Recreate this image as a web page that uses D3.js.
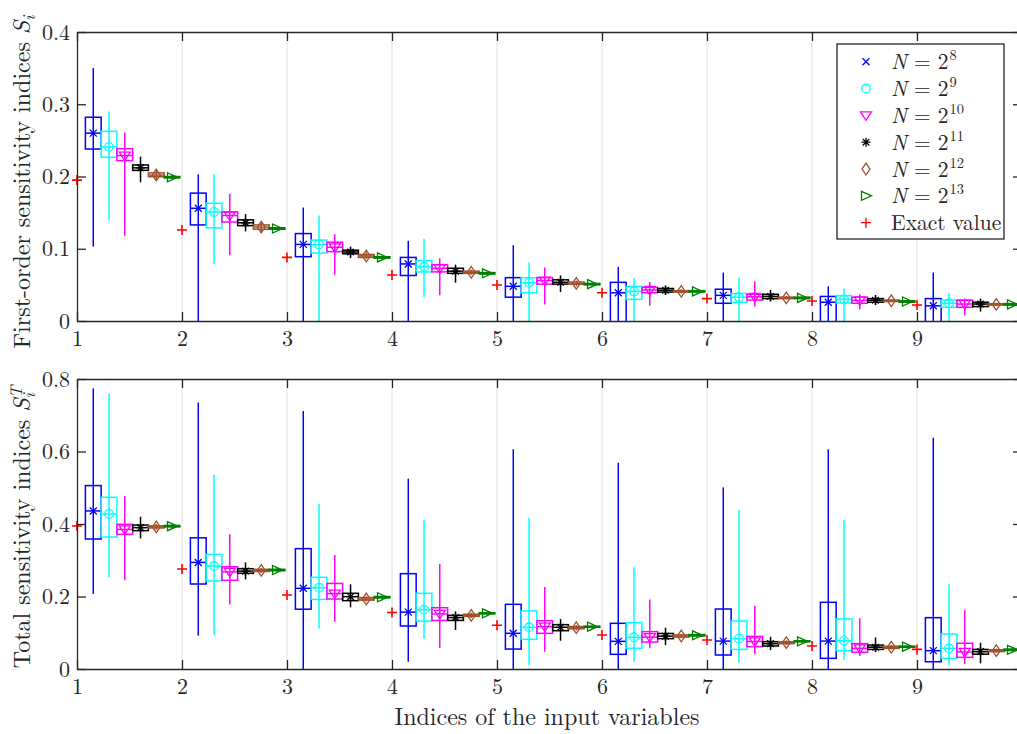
<!DOCTYPE html>
<html>
<head>
<meta charset="utf-8">
<script src="https://cdn.jsdelivr.net/npm/d3@7"></script>
<style>
  body { margin: 0; background: #fff; }
  text { font-family: "Latin Modern Roman", "CMU Serif", "Liberation Serif", "Times New Roman", serif; fill: #262626; }
</style>
</head>
<body>
<script>
// index of input variable
var variables = [1, 2, 3, 4, 5, 6, 7, 8, 9];
var sampleLabels = ["8", "9", "10", "11", "12", "13"];

// first-order indices, per variable: [whisker low, q1, median, q3, whisker high]
var first_N8 = [[0.103,0.238,0.26,0.282,0.35],[-0.02,0.133,0.156,0.177,0.203],[-0.02,0.089,0.106,0.121,0.157],
  [-0.02,0.063,0.079,0.088,0.111],[-0.02,0.033,0.048,0.060,0.105],[-0.02,-0.002,0.039,0.0535,0.075],
  [-0.02,0.0245,0.0355,0.044,0.067],[-0.02,-0.002,0.026,0.034,0.048],[-0.02,-0.002,0.021,0.031,0.067]];
var first_N9 = [[0.139,0.2265,0.241,0.2625,0.29],[0.079,0.129,0.151,0.163,0.203],[-0.02,0.094,0.106,0.112,0.146],
  [0.033,0.068,0.075,0.0835,0.114],[-0.02,0.039,0.053,0.060,0.081],[-0.02,0.030,0.041,0.048,0.059],
  [-0.02,0.026,0.033,0.038,0.060],[-0.02,0.025,0.030,0.035,0.045],[-0.02,0.019,0.0245,0.029,0.038]];
var first_N10 = [[0.118,0.222,0.229,0.2385,0.261],[0.091,0.137,0.146,0.151,0.176],[0.064,0.096,0.102,0.109,0.120],
  [0.0355,0.068,0.073,0.078,0.087],[0.023,0.051,0.056,0.060,0.074],[0.021,0.039,0.043,0.0466,0.054],
  [0.020,0.029,0.0335,0.037,0.055],[0.016,0.0245,0.0285,0.033,0.037],[0.008,0.019,0.0235,0.029,0.031]];
var first_N11 = [[0.192,0.2085,0.212,0.216,0.2275],[0.124,0.132,0.136,0.140,0.148],[0.087,0.093,0.0955,0.098,0.103],
  [0.053,0.066,0.069,0.073,0.078],[0.040,0.051,0.0535,0.057,0.063],[0.036,0.040,0.0425,0.045,0.049],
  [0.027,0.031,0.034,0.037,0.043],[0.022,0.026,0.0287,0.031,0.036],[0.013,0.020,0.0235,0.026,0.031]];
var first_N12 = [[0.194,0.1997,0.202,0.205,0.21],[0.122,0.127,0.130,0.133,0.137],[0.086,0.088,0.090,0.092,0.095],
  [0.064,0.066,0.0674,0.069,0.071],[0.048,0.051,0.052,0.054,0.056],[0.038,0.040,0.041,0.042,0.044],
  [0.030,0.031,0.032,0.033,0.035],[0.026,0.027,0.028,0.029,0.030],[0.021,0.022,0.023,0.024,0.025]];
var first_N13 = [[0.196,0.198,0.199,0.200,0.202],[0.126,0.127,0.128,0.129,0.130],[0.086,0.087,0.088,0.089,0.090],
  [0.064,0.065,0.066,0.067,0.068],[0.049,0.050,0.051,0.052,0.053],[0.039,0.040,0.041,0.042,0.043],
  [0.030,0.031,0.032,0.033,0.034],[0.025,0.026,0.027,0.028,0.029],[0.021,0.022,0.023,0.024,0.025]];
var first_exact = [0.195, 0.126, 0.088, 0.0637, 0.0498, 0.039, 0.031, 0.0277, 0.0221];

// total indices
var total_N8 = [[0.207,0.3586,0.436,0.506,0.774],[0.092,0.2345,0.294,0.362,0.735],[-0.03,0.165,0.2226,0.332,0.712],
  [0.02,0.1186,0.157,0.263,0.525],[-0.03,0.055,0.0984,0.1784,0.606],[-0.03,0.0405,0.0763,0.126,0.569],
  [-0.03,0.0386,0.077,0.1655,0.501],[-0.03,0.0294,0.077,0.184,0.606],[-0.03,0.020,0.0506,0.1416,0.638]];
var total_N9 = [[0.253,0.364,0.4276,0.4736,0.76],[0.094,0.243,0.284,0.3163,0.536],[0.112,0.192,0.224,0.253,0.456],
  [0.0837,0.1324,0.1637,0.2088,0.411],[0.011,0.0818,0.115,0.160,0.4175],[0.020,0.057,0.0874,0.1278,0.281],
  [0.0175,0.054,0.0837,0.1324,0.4386],[0.025,0.0506,0.078,0.138,0.411],[0.011,0.0294,0.057,0.0966,0.2336]];
var total_N10 = [[0.2455,0.3715,0.385,0.399,0.477],[0.178,0.2446,0.268,0.282,0.3715],[0.1306,0.193,0.208,0.236,0.3145],
  [0.058,0.134,0.152,0.169,0.2897],[0.0478,0.0984,0.1168,0.1333,0.226],[0.057,0.0745,0.088,0.103,0.192],
  [0.0405,0.0616,0.076,0.090,0.1747],[0.0359,0.046,0.057,0.070,0.140],[0.0138,0.0322,0.047,0.071,0.163]];
var total_N11 = [[0.36,0.3816,0.39,0.397,0.42],[0.247,0.264,0.27,0.2767,0.294],[0.17,0.1885,0.1996,0.2088,0.2336],
  [0.1076,0.134,0.142,0.148,0.159],[0.078,0.1057,0.115,0.1223,0.138],[0.066,0.0837,0.0905,0.098,0.114],
  [0.052,0.0635,0.070,0.0754,0.089],[0.047,0.054,0.060,0.066,0.087],[0.0156,0.041,0.048,0.054,0.0726]];
var total_N12 = [[0.384,0.389,0.392,0.395,0.400],[0.265,0.269,0.272,0.275,0.279],[0.186,0.190,0.193,0.197,0.200],
  [0.141,0.145,0.148,0.151,0.155],[0.107,0.111,0.114,0.117,0.121],[0.085,0.088,0.091,0.094,0.097],
  [0.066,0.070,0.0727,0.075,0.079],[0.054,0.057,0.060,0.063,0.066],[0.045,0.048,0.0506,0.053,0.056]];
var total_N13 = [[0.389,0.392,0.394,0.396,0.399],[0.268,0.271,0.273,0.275,0.278],[0.193,0.196,0.198,0.200,0.203],
  [0.149,0.152,0.1535,0.155,0.158],[0.112,0.115,0.1167,0.118,0.121],[0.089,0.091,0.093,0.095,0.097],
  [0.072,0.075,0.0763,0.078,0.080],[0.058,0.060,0.0616,0.063,0.065],[0.049,0.051,0.053,0.055,0.057]];
var total_exact = [0.3945, 0.276, 0.204, 0.156, 0.1205, 0.0938, 0.080, 0.0634, 0.054];

var firstTicks = [0, 0.1, 0.2, 0.3, 0.4];
var totalTicks = [0, 0.2, 0.4, 0.6, 0.8];

// styling per sample size
var colors = ["#0000ff", "#00ffff", "#ff00ff", "#000000", "#a0522d", "#008000"];
var markers = ["x", "o", "v", "*", "d", ">"];
var offsets = [0.155, 0.305, 0.455, 0.605, 0.755, 0.905];
var boxW = 0.15;

var W = 1017, H = 734;
var svg = d3.select("body").append("svg").attr("width", W).attr("height", H);

var x = d3.scaleLinear().domain([1, 10]).range([77, 1022]);
var axisColor = "#262626";

function markerPath(type) {
  var p = d3.path();
  if (type == "x") { p.moveTo(-3.5,-3.5); p.lineTo(3.5,3.5); p.moveTo(-3.5,3.5); p.lineTo(3.5,-3.5); }
  else if (type == "o") { p.moveTo(4.3,0); p.arc(0,0,4.3,0,2*Math.PI); }
  else if (type == "v") { p.moveTo(-5.5,-3.5); p.lineTo(5.5,-3.5); p.lineTo(0,5); p.closePath(); }
  else if (type == "*") { p.moveTo(-4.5,0); p.lineTo(4.5,0); p.moveTo(0,-4.5); p.lineTo(0,4.5);
    p.moveTo(-3.3,-3.3); p.lineTo(3.3,3.3); p.moveTo(-3.3,3.3); p.lineTo(3.3,-3.3); }
  else if (type == "d") { p.moveTo(0,-5.8); p.lineTo(4,0); p.lineTo(0,5.8); p.lineTo(-4,0); p.closePath(); }
  else if (type == ">") { p.moveTo(-4.5,-4.5); p.lineTo(5.5,0); p.lineTo(-4.5,4.5); p.closePath(); }
  else if (type == "+") { p.moveTo(-5,0); p.lineTo(5,0); p.moveTo(0,-5); p.lineTo(0,5); }
  return p.toString();
}

function drawPanel(id, top, bottom, ymax, ticks, series, exact) {
  var y = d3.scaleLinear().domain([0, ymax]).range([bottom, top]);
  var g = svg.append("g");

  svg.append("clipPath").attr("id", id).append("rect")
    .attr("x", x(1)).attr("y", top).attr("width", x(10) - x(1)).attr("height", bottom - top);

  // vertical grid
  g.append("g").selectAll("line").data(variables.slice(1)).join("line")
    .attr("x1", d => x(d)).attr("x2", d => x(d)).attr("y1", top).attr("y2", bottom)
    .attr("stroke", "#dedede").attr("stroke-width", 1);

  var rows = [];
  series.forEach(function(s, k) {
    s.forEach(function(v, i) {
      rows.push({ k: k, xc: variables[i] + offsets[k], lo: v[0], q1: v[1], med: v[2], q3: v[3], hi: v[4] });
    });
  });

  var hw = (x(1 + boxW) - x(1)) / 2;
  var plot = g.append("g").attr("clip-path", "url(#" + id + ")");
  var grp = plot.selectAll("g.b").data(rows).join("g").attr("class", "b")
    .attr("stroke", d => colors[d.k]).attr("fill", "none");

  grp.append("line")
    .attr("x1", d => x(d.xc)).attr("x2", d => x(d.xc))
    .attr("y1", d => y(d.lo)).attr("y2", d => y(d.hi)).attr("stroke-width", 1.5);
  grp.append("rect")
    .attr("x", d => x(d.xc) - hw).attr("width", 2 * hw)
    .attr("y", d => y(d.q3)).attr("height", d => Math.max(0.5, y(d.q1) - y(d.q3)))
    .attr("stroke-width", 1.5);
  grp.append("line")
    .attr("x1", d => x(d.xc) - hw).attr("x2", d => x(d.xc) + hw)
    .attr("y1", d => y(d.med)).attr("y2", d => y(d.med)).attr("stroke-width", 1.5);
  grp.append("path")
    .attr("transform", d => "translate(" + x(d.xc) + "," + y(d.med) + ")")
    .attr("d", d => markerPath(markers[d.k])).attr("stroke-width", 1.3);

  // exact values
  g.append("g").selectAll("path").data(exact).join("path")
    .attr("transform", (d, i) => "translate(" + x(variables[i]) + "," + y(d) + ")")
    .attr("d", markerPath("+")).attr("stroke", "#ff0000").attr("stroke-width", 1.6).attr("fill", "none");

  // axes
  var fmt = d => d === 0 ? "0" : d3.format(".1f")(d);
  var ax = [
    g.append("g").attr("transform", "translate(0," + bottom + ")")
      .call(d3.axisBottom(x).tickValues(variables).tickSizeInner(-9).tickSizeOuter(0).tickPadding(9).tickFormat(d3.format("d"))),
    g.append("g").attr("transform", "translate(0," + top + ")")
      .call(d3.axisTop(x).tickValues(variables).tickSizeInner(-9).tickSizeOuter(0).tickFormat("")),
    g.append("g").attr("transform", "translate(" + x(1) + ",0)")
      .call(d3.axisLeft(y).tickValues(ticks).tickSizeInner(-9).tickSizeOuter(0).tickPadding(7).tickFormat(fmt)),
    g.append("g").attr("transform", "translate(" + x(10) + ",0)")
      .call(d3.axisRight(y).tickValues(ticks).tickSizeInner(-9).tickSizeOuter(0).tickFormat(""))
  ];
  ax.forEach(function(a) {
    a.select(".domain").attr("stroke", axisColor).attr("stroke-width", 1.3);
    a.selectAll(".tick line").attr("stroke", axisColor).attr("stroke-width", 1.3);
    a.selectAll(".tick text").style("font-size", "22px").attr("fill", axisColor)
      .style("font-family", '"Latin Modern Roman","CMU Serif","Liberation Serif",serif');
  });
  return y;
}

drawPanel("clipTop", 32, 321, 0.4, firstTicks,
  [first_N8, first_N9, first_N10, first_N11, first_N12, first_N13], first_exact);
drawPanel("clipBot", 379, 669, 0.8, totalTicks,
  [total_N8, total_N9, total_N10, total_N11, total_N12, total_N13], total_exact);

// y labels
var yl1 = svg.append("text").attr("transform", "translate(30,182) rotate(-90)")
  .attr("text-anchor", "middle").style("font-size", "24px");
yl1.append("tspan").text("First-order sensitivity indices ");
yl1.append("tspan").attr("font-style", "italic").text("S");
yl1.append("tspan").attr("font-style", "italic").attr("font-size", "17px").attr("dy", 5).text("i");

var yl2 = svg.append("text").attr("transform", "translate(30,527) rotate(-90)")
  .attr("text-anchor", "middle").style("font-size", "24px");
yl2.append("tspan").text("Total sensitivity indices ");
yl2.append("tspan").attr("font-style", "italic").text("S");
yl2.append("tspan").attr("font-style", "italic").attr("font-size", "17px").attr("dy", 5).text("i");
yl2.append("tspan").attr("font-style", "italic").attr("font-size", "17px").attr("dx", -5).attr("dy", -13).text("T");

svg.append("text").attr("x", 547).attr("y", 725).attr("text-anchor", "middle")
  .style("font-size", "24px").text("Indices of the input variables");

// legend
var lg = svg.append("g");
lg.append("rect").attr("x", 837).attr("y", 44).attr("width", 167).attr("height", 195)
  .attr("fill", "#fff").attr("stroke", axisColor).attr("stroke-width", 1.3);
var legendRows = sampleLabels.map((s, k) => ({ k: k, exp: s })).concat([{ k: -1 }]);
var rowY = d3.scaleLinear().domain([0, 6]).range([61.7, 222.7]);
var li = lg.selectAll("g.l").data(legendRows).join("g").attr("class", "l")
  .attr("transform", (d, i) => "translate(0," + rowY(i) + ")");
li.append("path").attr("transform", "translate(866,0)")
  .attr("d", d => markerPath(d.k < 0 ? "+" : markers[d.k]))
  .attr("stroke", d => d.k < 0 ? "#ff0000" : colors[d.k]).attr("fill", "none").attr("stroke-width", 1.3);
var lt = li.append("text").attr("x", 891).attr("y", 7.5).style("font-size", "21.5px").attr("fill", "#000");
lt.filter(d => d.k < 0).text("Exact value");
lt.filter(d => d.k >= 0).each(function(d) {
  var t = d3.select(this);
  t.append("tspan").attr("font-style", "italic").text("N");
  t.append("tspan").attr("dx", 7).text("=");
  t.append("tspan").attr("dx", 7).text("2");
  t.append("tspan").attr("font-size", "14.5px").attr("dx", 1).attr("dy", -9).text(d.exp);
});
</script>
</body>
</html>
